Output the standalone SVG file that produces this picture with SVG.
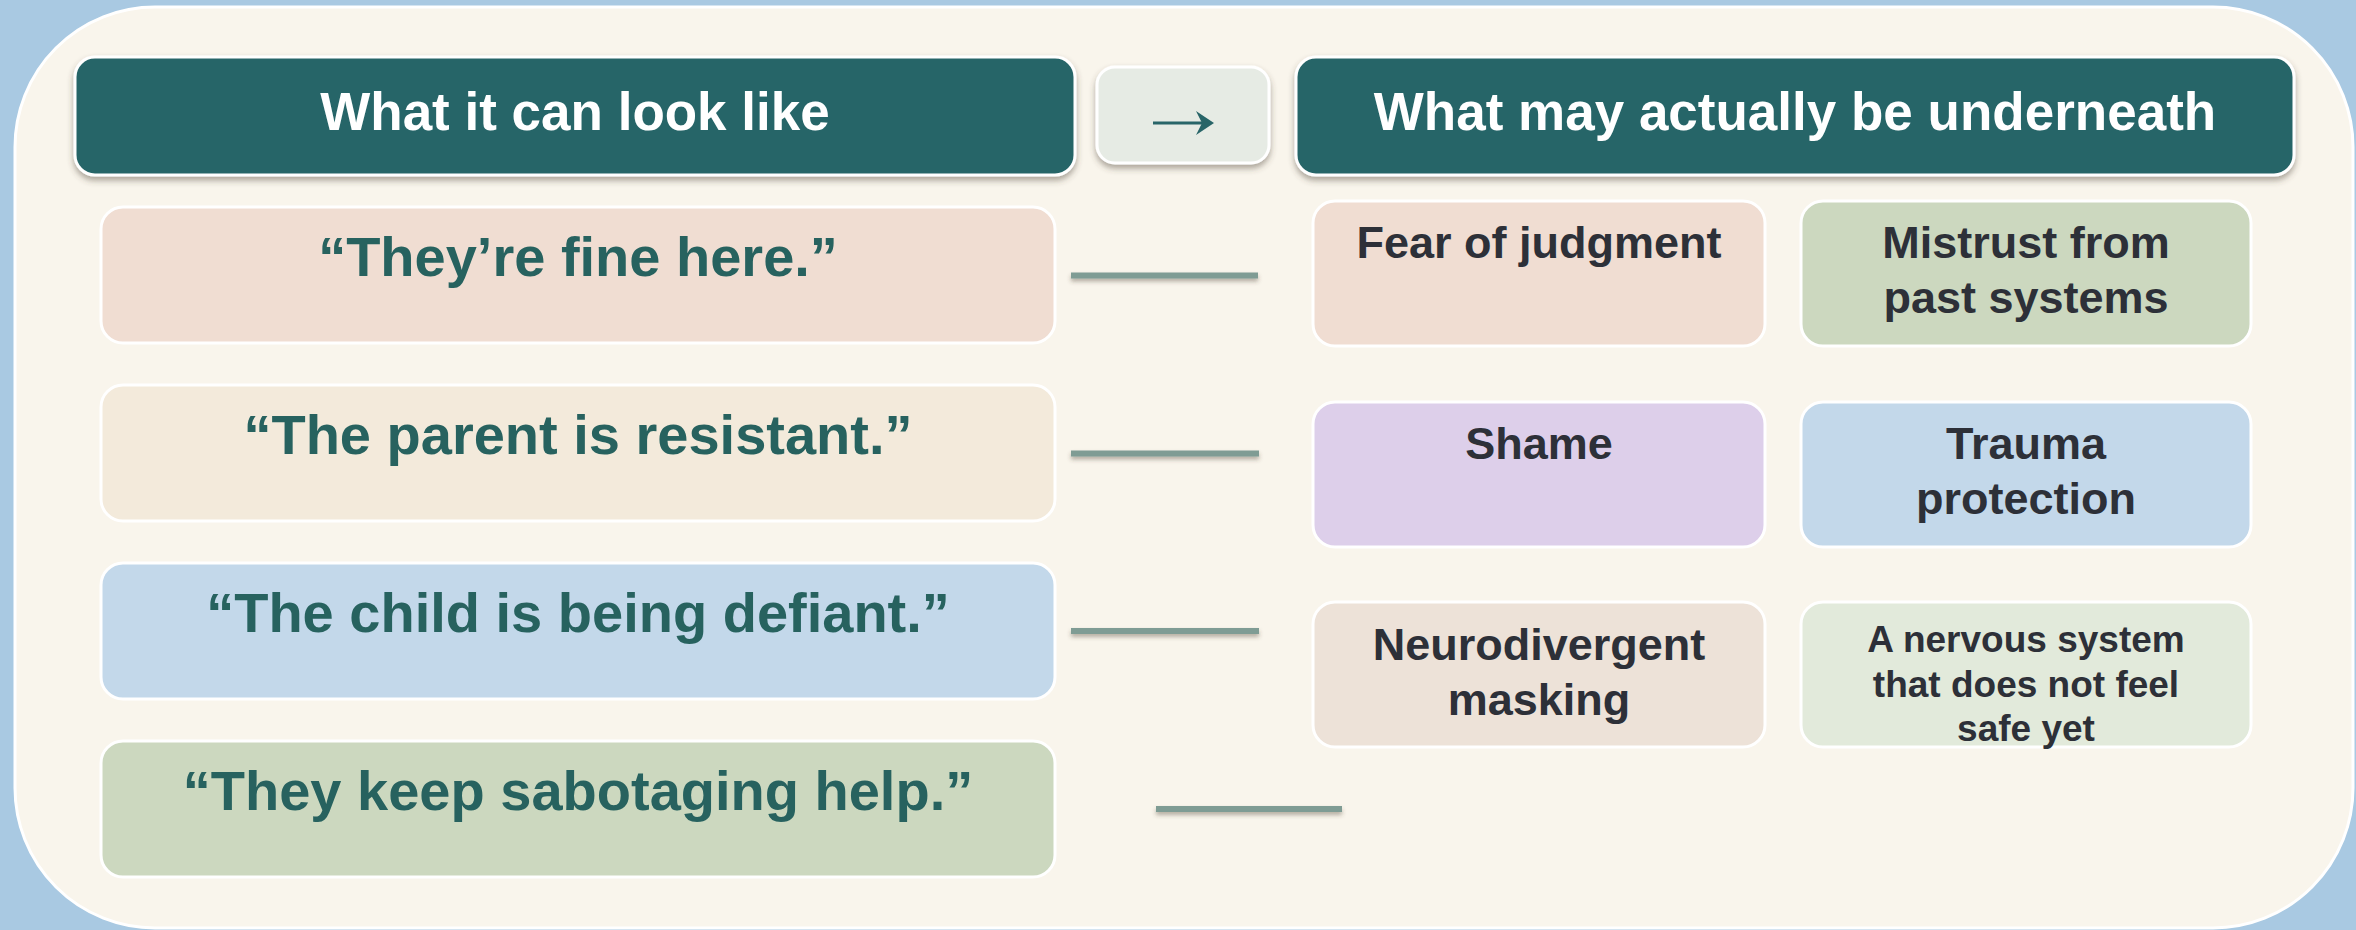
<svg xmlns="http://www.w3.org/2000/svg" width="2356" height="930" viewBox="0 0 2356 930">
  <defs>
    <filter id="lift" x="-5%" y="-20%" width="110%" height="150%">
      <feDropShadow dx="0" dy="4" stdDeviation="3" flood-color="#4a3f33" flood-opacity="0.45"/>
    </filter>
    <filter id="lineShadow" x="-5%" y="-200%" width="110%" height="600%">
      <feDropShadow dx="0" dy="3" stdDeviation="2" flood-color="#4a3f33" flood-opacity="0.4"/>
    </filter>
  </defs>
  <style>
    .head { fill: #286568; stroke: #ffffff; stroke-width: 3; }
    .headText { font-family: "Liberation Sans", Arial, sans-serif; font-weight: bold; font-size: 53px; fill: #ffffff; text-anchor: middle; }
    .quote { stroke: #ffffff; stroke-width: 3; }
    .quoteText { font-family: "Liberation Sans", Arial, sans-serif; font-weight: bold; font-size: 56px; fill: #27625f; text-anchor: middle; }
    .cause { stroke: #ffffff; stroke-width: 3; }
    .causeText { font-family: "Liberation Sans", Arial, sans-serif; font-weight: bold; font-size: 45px; fill: #2d3038; text-anchor: middle; }
    .causeSmall { font-family: "Liberation Sans", Arial, sans-serif; font-weight: bold; font-size: 37px; fill: #2d3038; text-anchor: middle; }
    .link { stroke: #7f9c94; stroke-width: 6; fill: none; }
  </style>

  <!-- page background and main panel -->
  <rect x="0" y="0" width="2356" height="930" fill="#a9c9e2"/>
  <rect x="15" y="7" width="2338" height="921" rx="140" ry="140" fill="#f9f5ec" stroke="#ffffff" stroke-width="3"/>

  <!-- column headers -->
  <g id="header-left" filter="url(#lift)">
    <rect class="head" x="75" y="57" width="1000" height="118" rx="20"/>
  </g>
  <text class="headText" x="575" y="130">What it can look like</text>

  <g id="header-arrow" filter="url(#lift)">
    <rect x="1097" y="67" width="172" height="96" rx="18" fill="#e6ebe4" stroke="#ffffff" stroke-width="3"/>
  </g>
  <g id="arrow-glyph" fill="#286568">
    <rect x="1153" y="121.5" width="54" height="3"/>
    <path d="M1196,111 L1214,123 L1196,135 L1202,123 Z"/>
  </g>

  <g id="header-right" filter="url(#lift)">
    <rect class="head" x="1296" y="57" width="998" height="118" rx="20"/>
  </g>
  <text class="headText" x="1795" y="130">What may actually be underneath</text>

  <!-- observed behaviours -->
  <g id="quote-fine">
    <rect class="quote" x="101" y="207" width="954" height="136" rx="22" fill="#f0ddd2"/>
    <text class="quoteText" x="578" y="276">“They’re fine here.”</text>
  </g>
  <g id="quote-parent">
    <rect class="quote" x="101" y="385" width="954" height="136" rx="22" fill="#f3eadb"/>
    <text class="quoteText" x="578" y="454">“The parent is resistant.”</text>
  </g>
  <g id="quote-child">
    <rect class="quote" x="101" y="563" width="954" height="136" rx="22" fill="#c3d8ea"/>
    <text class="quoteText" x="578" y="632">“The child is being defiant.”</text>
  </g>
  <g id="quote-sabotage">
    <rect class="quote" x="101" y="741" width="954" height="136" rx="22" fill="#ccd8bf"/>
    <text class="quoteText" x="578" y="810">“They keep sabotaging help.”</text>
  </g>

  <!-- connectors -->
  <g id="connectors" filter="url(#lineShadow)">
    <line class="link" x1="1071" y1="275.5" x2="1258" y2="275.5"/>
    <line class="link" x1="1071" y1="453.5" x2="1259" y2="453.5"/>
    <line class="link" x1="1071" y1="631" x2="1259" y2="631"/>
    <line class="link" x1="1156" y1="809" x2="1342" y2="809"/>
  </g>

  <!-- underlying causes -->
  <g id="cause-fear">
    <rect class="cause" x="1313" y="201" width="452" height="145" rx="22" fill="#f0ddd2"/>
    <text class="causeText" x="1539" y="258">Fear of judgment</text>
  </g>
  <g id="cause-mistrust">
    <rect class="cause" x="1801" y="201" width="450" height="145" rx="22" fill="#ccd8bf"/>
    <text class="causeText" x="2026" y="258">Mistrust from</text>
    <text class="causeText" x="2026" y="313">past systems</text>
  </g>
  <g id="cause-shame">
    <rect class="cause" x="1313" y="402" width="452" height="145" rx="22" fill="#ddcfea"/>
    <text class="causeText" x="1539" y="459">Shame</text>
  </g>
  <g id="cause-trauma">
    <rect class="cause" x="1801" y="402" width="450" height="145" rx="22" fill="#c3d8ea"/>
    <text class="causeText" x="2026" y="459">Trauma</text>
    <text class="causeText" x="2026" y="514">protection</text>
  </g>
  <g id="cause-masking">
    <rect class="cause" x="1313" y="602" width="452" height="145" rx="22" fill="#ede2d8"/>
    <text class="causeText" x="1539" y="660">Neurodivergent</text>
    <text class="causeText" x="1539" y="715">masking</text>
  </g>
  <g id="cause-nervous">
    <rect class="cause" x="1801" y="602" width="450" height="145" rx="22" fill="#e2eadb"/>
    <text class="causeSmall" x="2026" y="652">A nervous system</text>
    <text class="causeSmall" x="2026" y="697">that does not feel</text>
    <text class="causeSmall" x="2026" y="741">safe yet</text>
  </g>
</svg>
